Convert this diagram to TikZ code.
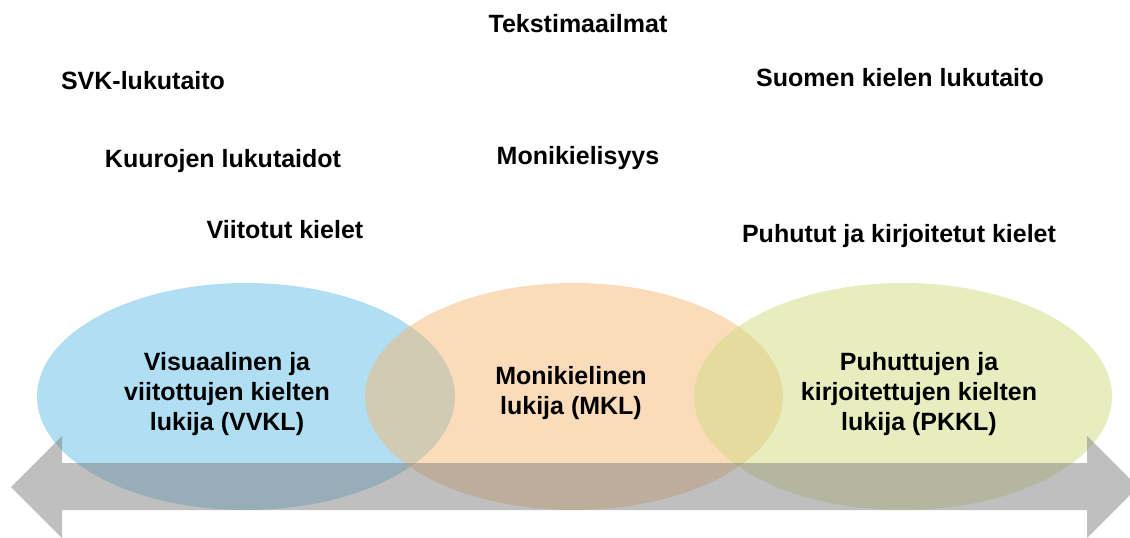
\documentclass[tikz,border=0pt]{standalone}
\usepackage{fontspec}
\setmainfont{Liberation Sans}
\usetikzlibrary{shapes.geometric}

\definecolor{vvkl}{RGB}{97,189,231}
\definecolor{mkl}{RGB}{245,185,117}
\definecolor{pkkl}{RGB}{209,219,129}

\tikzset{
    bulle/.style={ellipse, draw=none, inner sep=0pt, fill opacity=0.5,
        minimum width=418pt, minimum height=227pt},
    fleche/.style={fill=black!50, fill opacity=0.5},
    etiquette/.style={anchor=base, inner sep=0pt,
        font=\bfseries\fontsize{25}{30}\selectfont},
    lecteur/.style={align=center, inner sep=0pt,
        font=\bfseries\fontsize{25}{30}\selectfont}
}

\begin{document}
\begin{tikzpicture}[x=1pt, y=-1pt]
        \useasboundingbox (0,0) rectangle (1130,538);

        % Ellipses des lecteurs
        \foreach \nom/\cx/\coul in {ev/246/vvkl, em/574/mkl, ep/903/pkkl} {
            \node[bulle, fill=\coul] (\nom) at (\cx,396.5) {};
        }

        % Fleche double
        \fill[fleche] (11,487) -- (62,436) -- (62,463) -- (1087,463)
            -- (1087,436) -- (1138,487) -- (1087,538) -- (1087,510)
            -- (62,510) -- (62,538) -- cycle;

        % Textes des lecteurs
        \node[lecteur] (tv) at (227,394) {Visuaalinen ja\\viitottujen kielten\\lukija (VVKL)};
        \node[lecteur] (tm) at (571,393) {Monikielinen\\lukija (MKL)};
        \node[lecteur] (tp) at (919,394) {Puhuttujen ja\\kirjoitettujen kielten\\lukija (PKKL)};

        % Etiquettes du haut
        \foreach \nom/\x/\y/\txt in {tek/578/32/Tekstimaailmat,
                svk/143/89/SVK-lukutaito,
                suo/900/86/Suomen kielen lukutaito,
                kuu/223/167/Kuurojen lukutaidot,
                mon/578/164/Monikielisyys,
                vii/285/238/Viitotut kielet,
                puh/899/242/Puhutut ja kirjoitetut kielet} {
            \node[etiquette] (\nom) at (\x,\y) {\txt};
        }
    \end{tikzpicture}
\end{document}
